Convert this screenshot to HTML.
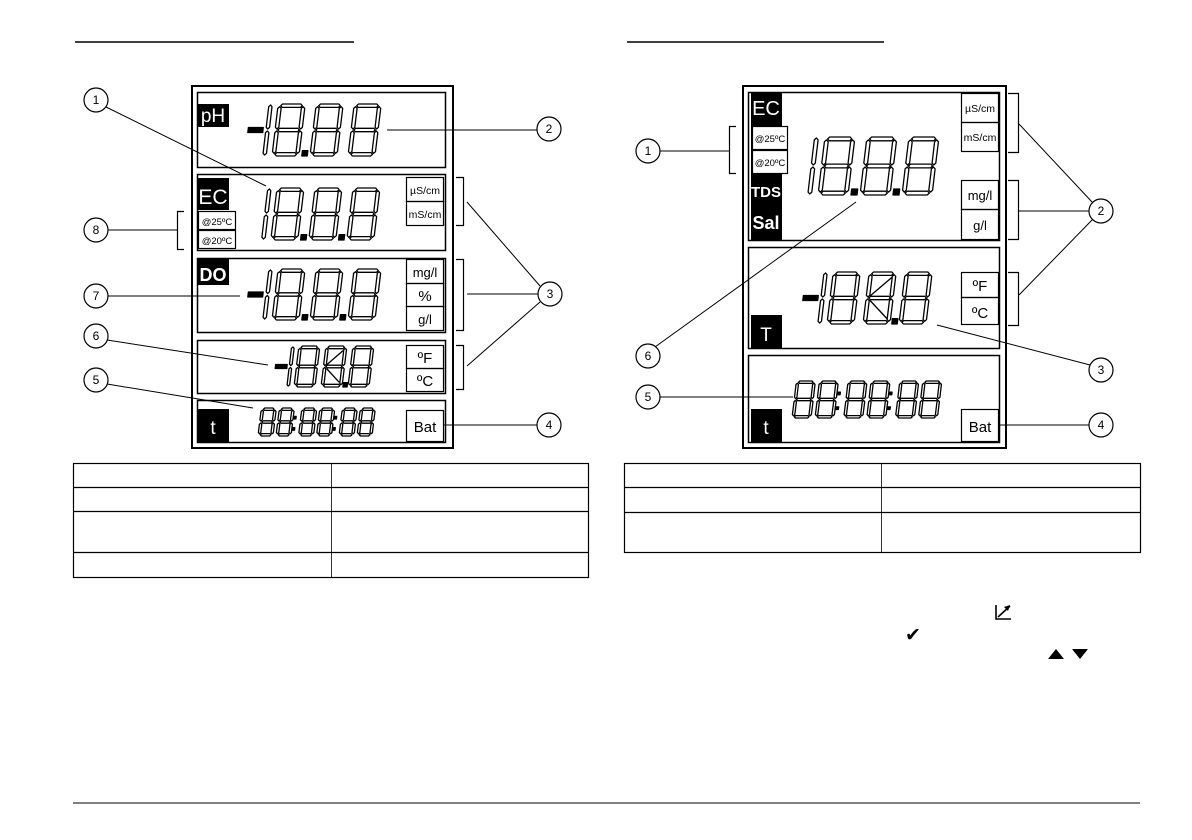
<!DOCTYPE html>
<html><head><meta charset="utf-8">
<style>
html,body{margin:0;padding:0;background:#fff;}
svg{display:block;}
text{font-family:"Liberation Sans",sans-serif;}
</style></head>
<body>
<svg id="s" width="1192" height="840" viewBox="0 0 1192 840" xmlns="http://www.w3.org/2000/svg">
<g stroke="#000" fill="none">
<line x1="75" y1="42" x2="354" y2="42" stroke-width="1.5"/>
<line x1="627" y1="42" x2="884" y2="42" stroke-width="1.5"/>
<line x1="73" y1="803" x2="1140" y2="803" stroke-width="1"/>

<rect x="192" y="86" width="261" height="362" stroke-width="2"/>
<rect x="197.5" y="92.5" width="248" height="75" stroke-width="1.5"/>
<rect x="197.5" y="174.5" width="248" height="76" stroke-width="1.5"/>
<rect x="197.5" y="258.5" width="248" height="74" stroke-width="1.5"/>
<rect x="197.5" y="340.5" width="248" height="53" stroke-width="1.5"/>
<rect x="197.5" y="400.5" width="248" height="42" stroke-width="1.5"/>
<rect x="406.5" y="177.5" width="37" height="24" stroke-width="1.2"/>
<rect x="406.5" y="201.5" width="37" height="24" stroke-width="1.2"/>
<rect x="406.5" y="259.5" width="37" height="24" stroke-width="1.2"/>
<rect x="406.5" y="283.5" width="37" height="23" stroke-width="1.2"/>
<rect x="406.5" y="306.5" width="37" height="24" stroke-width="1.2"/>
<rect x="406.5" y="345.5" width="37" height="23" stroke-width="1.2"/>
<rect x="406.5" y="368.5" width="37" height="23" stroke-width="1.2"/>
<rect x="406.5" y="410.5" width="37" height="31" stroke-width="1.2"/>
<rect x="198.5" y="211.5" width="37" height="18" stroke-width="1.2"/>
<rect x="198.5" y="230.5" width="37" height="18" stroke-width="1.2"/>
<polyline points="184,211.5 177.5,211.5 177.5,249.5 184,249.5" stroke-width="1.2"/>
<polyline points="456,177.5 463.5,177.5 463.5,225.5 456,225.5" stroke-width="1.2"/>
<polyline points="456,259.5 463.5,259.5 463.5,330.5 456,330.5" stroke-width="1.2"/>
<polyline points="456,345.5 463.5,345.5 463.5,389.5 456,389.5" stroke-width="1.2"/>
<g stroke-width="1">
<line x1="104" y1="106" x2="266" y2="186"/>
<line x1="387" y1="130" x2="537" y2="130"/>
<line x1="540" y1="286" x2="467" y2="202"/>
<line x1="538" y1="294" x2="467" y2="294"/>
<line x1="540" y1="302" x2="467" y2="366"/>
<line x1="443" y1="425" x2="537" y2="425"/>
<line x1="107" y1="384" x2="253" y2="408"/>
<line x1="107" y1="340" x2="268" y2="365"/>
<line x1="108" y1="296" x2="240" y2="296"/>
<line x1="108" y1="230" x2="177" y2="230"/>
</g>
<g stroke-width="1.2" fill="#fff">
<circle cx="96" cy="100" r="12"/><circle cx="549" cy="129" r="12"/>
<circle cx="550" cy="294" r="12"/><circle cx="549" cy="425" r="12"/>
<circle cx="96" cy="380" r="12"/><circle cx="96" cy="336" r="12"/>
<circle cx="96" cy="296" r="12"/><circle cx="96" cy="230" r="12"/>
</g>

<rect x="743" y="86" width="263" height="362" stroke-width="2"/>
<rect x="748.5" y="92.5" width="251" height="148" stroke-width="1.5"/>
<rect x="748.5" y="247.5" width="251" height="101" stroke-width="1.5"/>
<rect x="748.5" y="355.5" width="251" height="87" stroke-width="1.5"/>
<rect x="961.5" y="93.5" width="37" height="29" stroke-width="1.2"/>
<rect x="961.5" y="122.5" width="37" height="29" stroke-width="1.2"/>
<rect x="961.5" y="180.5" width="37" height="29" stroke-width="1.2"/>
<rect x="961.5" y="209.5" width="37" height="30" stroke-width="1.2"/>
<rect x="961.5" y="272.5" width="37" height="25" stroke-width="1.2"/>
<rect x="961.5" y="297.5" width="37" height="27" stroke-width="1.2"/>
<rect x="961.5" y="409.5" width="37" height="32" stroke-width="1.2"/>
<polyline points="736,126.5 729.5,126.5 729.5,173.5 736,173.5" stroke-width="1.2"/>
<polyline points="1008,93.5 1018.5,93.5 1018.5,152.5 1008,152.5" stroke-width="1.2"/>
<polyline points="1008,180.5 1018.5,180.5 1018.5,239.5 1008,239.5" stroke-width="1.2"/>
<polyline points="1008,272.5 1018.5,272.5 1018.5,325.5 1008,325.5" stroke-width="1.2"/>
<g stroke-width="1">
<line x1="660" y1="151" x2="729" y2="151"/>
<line x1="1093" y1="203" x2="1019" y2="124"/>
<line x1="1089" y1="211" x2="1019" y2="211"/>
<line x1="1093" y1="219" x2="1019" y2="295"/>
<line x1="1090" y1="365" x2="937" y2="325"/>
<line x1="998" y1="425" x2="1089" y2="425"/>
<line x1="660" y1="397" x2="793" y2="397"/>
<line x1="655" y1="347" x2="856" y2="202"/>
</g>
<g stroke-width="1.2" fill="#fff">
<circle cx="648" cy="151" r="12"/><circle cx="1101" cy="211" r="12"/>
<circle cx="1101" cy="370" r="12"/><circle cx="1101" cy="425" r="12"/>
<circle cx="648" cy="397" r="12"/><circle cx="648" cy="356" r="12"/>
</g>

<g stroke-width="1.2">
<rect x="73.5" y="463.5" width="515" height="114"/>
<line x1="73" y1="487.5" x2="589" y2="487.5"/>
<line x1="73" y1="511.5" x2="589" y2="511.5"/>
<line x1="73" y1="552.5" x2="589" y2="552.5"/>
<line x1="331.5" y1="463" x2="331.5" y2="578" stroke-width="0.8"/>
<rect x="624.5" y="463.5" width="516" height="89"/>
<line x1="624" y1="487.5" x2="1141" y2="487.5"/>
<line x1="624" y1="512.5" x2="1141" y2="512.5"/>
<line x1="881.5" y1="463" x2="881.5" y2="553" stroke-width="0.8"/>
</g>
</g>

<g fill="#000">
<rect x="198" y="104" width="31" height="23"/>
<rect x="198" y="178" width="31" height="32"/>
<rect x="198" y="259" width="31" height="26"/>
<rect x="198" y="409" width="31" height="33"/>
<rect x="751" y="93" width="31" height="147"/>
<rect x="751" y="315" width="31" height="33"/>
<rect x="751" y="409" width="31" height="33"/>
</g>
<rect x="752.5" y="126.5" width="35" height="23" fill="#fff" stroke="#000" stroke-width="1.2"/>
<rect x="752.5" y="150.5" width="35" height="23" fill="#fff" stroke="#000" stroke-width="1.2"/>

<g fill="#fff" text-anchor="middle">
<text x="213" y="122" font-size="19">pH</text>
<text x="213" y="204" font-size="21">EC</text>
<text x="213" y="281" font-size="18" font-weight="bold">DO</text>
<text x="213" y="434" font-size="19">t</text>
<text x="766" y="115" font-size="20">EC</text>
<text x="766" y="197" font-size="15" font-weight="bold">TDS</text>
<text x="766" y="229" font-size="18" font-weight="bold">Sal</text>
<text x="766" y="341" font-size="19">T</text>
<text x="766" y="434" font-size="19">t</text>
</g>
<g fill="#000" text-anchor="middle">
<text x="217" y="225" font-size="9.5">@25ºC</text>
<text x="217" y="244" font-size="9.5">@20ºC</text>
<text x="425" y="194" font-size="10.5">µS/cm</text>
<text x="425" y="218" font-size="10.5">mS/cm</text>
<text x="425" y="277" font-size="13">mg/l</text>
<text x="425" y="301" font-size="15">%</text>
<text x="425" y="324" font-size="13">g/l</text>
<text x="425" y="363" font-size="15">ºF</text>
<text x="425" y="386" font-size="15">ºC</text>
<text x="425" y="432" font-size="15">Bat</text>
<text x="770" y="142" font-size="9.5">@25ºC</text>
<text x="770" y="166" font-size="9.5">@20ºC</text>
<text x="980" y="112" font-size="10.5">µS/cm</text>
<text x="980" y="141" font-size="10.5">mS/cm</text>
<text x="980" y="200" font-size="13">mg/l</text>
<text x="980" y="230" font-size="13">g/l</text>
<text x="980" y="291" font-size="15">ºF</text>
<text x="980" y="318" font-size="15">ºC</text>
<text x="980" y="432" font-size="15">Bat</text>
<g font-size="12">
<text x="96" y="104">1</text><text x="549" y="133">2</text><text x="550" y="298">3</text>
<text x="549" y="429">4</text><text x="96" y="384">5</text><text x="96" y="340">6</text>
<text x="96" y="300">7</text><text x="96" y="234">8</text>
<text x="648" y="155">1</text><text x="1101" y="215">2</text><text x="1101" y="374">3</text>
<text x="1101" y="429">4</text><text x="648" y="401">5</text><text x="648" y="360">6</text>
</g>
</g>

<g stroke="#000" fill="none" stroke-width="1.6">
<polyline points="996,605 996,619 1011,619"/>
<line x1="998" y1="617" x2="1010" y2="606"/>
</g>
<path d="M1004,607 L1010,605 L1008,611 Z" fill="#000"/>
<text x="905" y="641" font-size="19" font-family="DejaVu Sans, sans-serif" fill="#000">✔</text>
<path d="M1048,659 L1056,649 L1064,659 Z M1072,649 L1088,649 L1080,659 Z" fill="#000"/>

<g id="digits" stroke="#000" fill="none" stroke-width="1.3" stroke-linejoin="round"></g>
</svg>
<script>
(function(){
var g=document.getElementById('digits');var NS='http://www.w3.org/2000/svg';
function poly(pts,fill){var p=document.createElementNS(NS,'polygon');p.setAttribute('points',pts.map(function(a){return a[0].toFixed(1)+','+a[1].toFixed(1)}).join(' '));if(fill){p.setAttribute('fill','#000');}g.appendChild(p);}
function line(a,b){var ln=document.createElementNS(NS,'line');ln.setAttribute('x1',a[0]);ln.setAttribute('y1',a[1]);ln.setAttribute('x2',b[0]);ln.setAttribute('y2',b[1]);g.appendChild(ln);}
function disp(tokens,x,y,h,w,p){
 var s=0.12,t=Math.max(2.4,h*0.065),bot=y+h;
 function sk(pt){return [pt[0]+(bot-pt[1])*s,pt[1]];}
 function hseg(x0,x1,yy){poly([[x0,yy],[x0+t/2,yy-t/2],[x1-t/2,yy-t/2],[x1,yy],[x1-t/2,yy+t/2],[x0+t/2,yy+t/2]].map(sk));}
 function vseg(xx,y0,y1){poly([[xx,y0],[xx+t/2,y0+t/2],[xx+t/2,y1-t/2],[xx,y1],[xx-t/2,y1-t/2],[xx-t/2,y0+t/2]].map(sk));}
 var c=x,mid=y+h/2;
 tokens.forEach(function(k){
  if(k=='-'){var mt=t*1.5;poly([[c,mid-mt/2],[c+w*0.55,mid-mt/2],[c+w*0.55,mid+mt/2],[c,mid+mt/2]].map(sk),true);c+=w*0.6;}
  else if(k=='1'){var xx=c+w*0.12;vseg(xx,y+1,mid-1);vseg(xx,mid+1,bot-1);c+=w*0.4;}
  else if(k=='8'||k=='8d'){
   var l=c+t/2,r=c+w-t/2;
   hseg(l+1,r-1,y+t/2);hseg(l+1,r-1,mid);hseg(l+1,r-1,bot-t/2);
   vseg(l,y+t/2+1,mid-1);vseg(r,y+t/2+1,mid-1);vseg(l,mid+1,bot-t/2-1);vseg(r,mid+1,bot-t/2-1);
   if(k=='8d'){line(sk([r-2,y+t+2]),sk([l+2,mid-2]));line(sk([l+2,mid+2]),sk([r-2,bot-t-2]));}
   c+=p;}
  else if(k=='.'){var d=t*1.6;var dx=c-(p-w)/2-d/2;poly([[dx,bot-d],[dx+d,bot-d],[dx+d,bot],[dx,bot]].map(sk),true);}
  else if(k==':'){var d=t*1.1;var dx=c-(p-w)/2-d/2;poly([[dx,y+h*0.3],[dx+d,y+h*0.3],[dx+d,y+h*0.3+d],[dx,y+h*0.3+d]].map(sk),true);poly([[dx,y+h*0.7],[dx+d,y+h*0.7],[dx+d,y+h*0.7+d],[dx,y+h*0.7+d]].map(sk),true);c+=w*0.3;}
 });
}
disp(['-','1','8','.','8','8'],245,104,52,27,38);
disp(['1','8','.','8','.','8'],260,188,52,27,38);
disp(['-','1','8','.','8','.','8'],245,269,51,27,38);
disp(['-','1','8','8d','.','8'],273,346,41,21,27);
disp(['8','8',':','8','8',':','8','8'],258,408,28,15,18);
disp(['1','8','.','8','.','8'],806,137,58,30,42);
disp(['-','1','8','8d','.','8'],800,272,52,27,36);
disp(['8','8',':','8','8',':','8','8'],792,381,37,19,23);
})();
</script>
</body></html>
